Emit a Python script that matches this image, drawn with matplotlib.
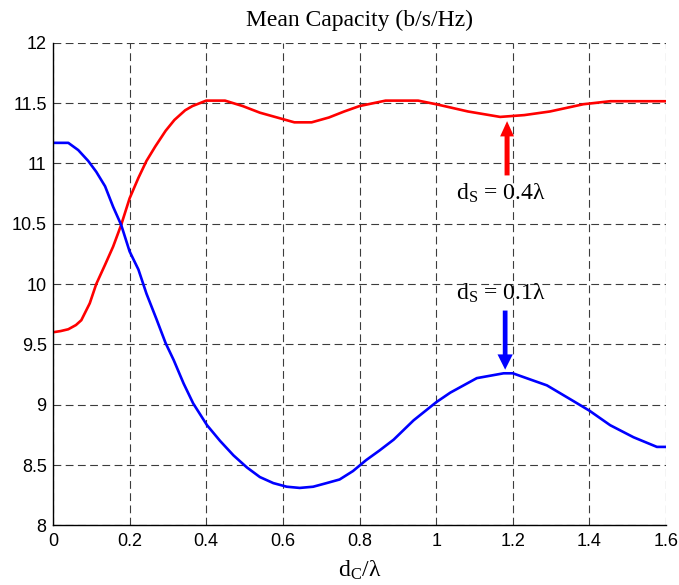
import matplotlib
matplotlib.use('Agg')
import matplotlib.pyplot as plt

plt.rcParams['mathtext.fontset'] = 'custom'
plt.rcParams['mathtext.rm'] = 'Liberation Serif'
plt.rcParams['mathtext.it'] = 'Liberation Serif:italic'

# d_S = 0.4 lambda (red)
x_red = [0, 0.02, 0.04, 0.06, 0.074, 0.096, 0.113, 0.136, 0.157, 0.178, 0.2, 0.223,
         0.244, 0.267, 0.294, 0.317, 0.345, 0.364, 0.4, 0.449, 0.495, 0.54, 0.585,
         0.63, 0.675, 0.72, 0.76, 0.8, 0.868, 0.953, 1.0, 1.083, 1.167, 1.23, 1.297,
         1.384, 1.454, 1.6]
y_red = [9.60, 9.61, 9.625, 9.66, 9.70, 9.84, 10.0, 10.16, 10.31, 10.49, 10.71, 10.88,
         11.02, 11.14, 11.27, 11.36, 11.44, 11.475, 11.52, 11.52, 11.475, 11.42, 11.38,
         11.34, 11.34, 11.38, 11.43, 11.475, 11.52, 11.52, 11.49, 11.43, 11.385, 11.40,
         11.43, 11.49, 11.515, 11.515]

# d_S = 0.1 lambda (blue)
x_blue = [0, 0.04, 0.066, 0.092, 0.113, 0.136, 0.157, 0.178, 0.2, 0.223, 0.244, 0.27,
          0.294, 0.315, 0.341, 0.366, 0.402, 0.436, 0.471, 0.506, 0.54, 0.575, 0.61,
          0.644, 0.679, 0.714, 0.748, 0.783, 0.817, 0.852, 0.889, 0.941, 1.0, 1.037,
          1.106, 1.176, 1.2, 1.289, 1.358, 1.4, 1.454, 1.515, 1.576, 1.6]
y_blue = [11.17, 11.17, 11.11, 11.02, 10.93, 10.81, 10.64, 10.49, 10.27, 10.12, 9.92, 9.71,
          9.51, 9.37, 9.175, 9.01, 8.83, 8.70, 8.58, 8.48, 8.40, 8.35, 8.32,
          8.31, 8.32, 8.35, 8.38, 8.45, 8.54, 8.62, 8.71, 8.87, 9.02, 9.10,
          9.22, 9.26, 9.26, 9.16, 9.03, 8.95, 8.83, 8.73, 8.65, 8.65]

x_ticks = [0, 0.2, 0.4, 0.6, 0.8, 1.0, 1.2, 1.4, 1.6]
x_ticklabels = ['0', '0.2', '0.4', '0.6', '0.8', '1', '1.2', '1.4', '1.6']
y_ticks = [8, 8.5, 9, 9.5, 10, 10.5, 11, 11.5, 12]
y_ticklabels = ['8', '8.5', '9', '9.5', '10', '10.5', '11', '11.5', '12']

fig = plt.figure(figsize=(6.79, 5.85), dpi=100)
ax = fig.add_axes([0.078, 0.102, 0.903, 0.825])

ax.plot(x_red, y_red, c='#ff0000', lw=1.9)
ax.plot(x_blue, y_blue, c='#0000ff', lw=1.9)

ax.set_xlim(0, 1.6)
ax.set_ylim(8, 12)
ax.set_xticks(x_ticks)
ax.set_xticklabels(x_ticklabels)
ax.set_yticks(y_ticks)
ax.set_yticklabels(y_ticklabels)
ax.tick_params(length=0, labelsize=13)
ax.tick_params(axis='y', pad=4.5)
ax.tick_params(axis='x', pad=5.5)
for lab in ax.get_xticklabels() + ax.get_yticklabels():
    lab.set_family('Liberation Sans')

ax.grid(True, color='#3c3c3c', lw=0.8, ls=(0, (7, 4)))
ax.spines['top'].set_visible(False)
ax.spines['right'].set_visible(False)
ax.spines['left'].set_linewidth(1.0)
ax.spines['bottom'].set_linewidth(1.0)

ax.set_title('Mean Capacity (b/s/Hz)', family='Liberation Serif', fontsize=17, pad=12)
ax.set_xlabel(r'd$_\mathrm{C}$/λ', family='Liberation Serif', fontsize=17, labelpad=6)

# annotations
ax.annotate('', xy=(1.185, 11.35), xytext=(1.185, 10.90),
            arrowprops=dict(arrowstyle='simple,head_width=1.0,head_length=1.1,tail_width=0.36',
                            fc='#ff0000', ec='none', mutation_scale=10, shrinkA=0, shrinkB=0))
ax.annotate('', xy=(1.18, 9.29), xytext=(1.18, 9.78),
            arrowprops=dict(arrowstyle='simple,head_width=1.1,head_length=1.1,tail_width=0.34',
                            fc='#0000ff', ec='none', mutation_scale=10, shrinkA=0, shrinkB=0))
ax.text(1.053, 10.755, r'd$_\mathrm{S}$ = 0.4λ', family='Liberation Serif', fontsize=17,
        va='center', ha='left')
ax.text(1.053, 9.926, r'd$_\mathrm{S}$ = 0.1λ', family='Liberation Serif', fontsize=17,
        va='center', ha='left')

fig.savefig('out.png', dpi=100)
